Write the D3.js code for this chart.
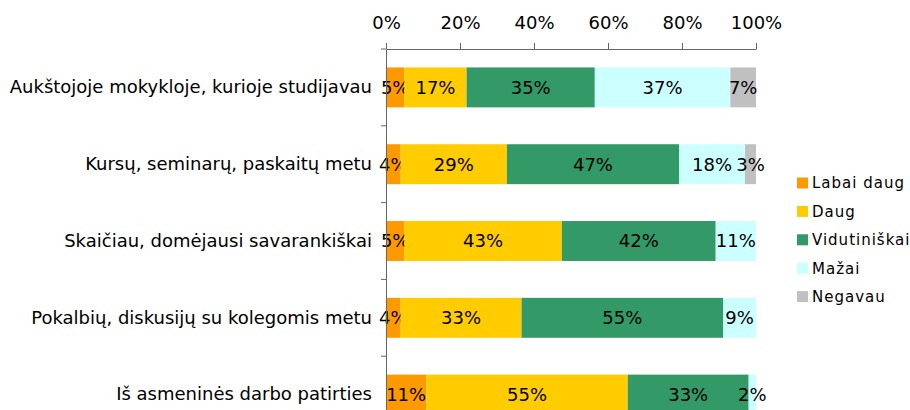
<!DOCTYPE html>
<html lang="en">
<head>
<meta charset="utf-8">
<script src="https://d3js.org/d3.v7.min.js"></script>
<style>
  body { margin: 0; background: #fff; }
  text { font-family: Verdana, "DejaVu Sans", sans-serif; fill: #000; }
</style>
</head>
<body>
<div id="chart"></div>
<script>
// categories (top to bottom)
var categories = [
  "Aukštojoje mokykloje, kurioje studijavau",
  "Kursų, seminarų, paskaitų metu",
  "Skaičiau, domėjausi savarankiškai",
  "Pokalbių, diskusijų su kolegomis metu",
  "Iš asmeninės darbo patirties"
];
// series names and colours
var seriesNames = ["Labai daug", "Daug", "Vidutiniškai", "Mažai", "Negavau"];
var seriesColors = ["#ff9900", "#ffcc00", "#339966", "#ccffff", "#c0c0c0"];
// percent values per category (as shown in the labels)
var labaiDaug    = [5, 4, 5, 4, 11];
var daug         = [17, 29, 43, 33, 55];
var vidutiniskai = [35, 47, 42, 55, 33];
var mazai        = [37, 18, 11, 9, 2];
var negavau      = [7, 3, 0, 0, 0];
var xTicks = [0, 0.2, 0.4, 0.6, 0.8, 1];

var seriesValues = [labaiDaug, daug, vidutiniskai, mazai, negavau];
var rows = categories.map(function(c, i) {
  var r = {cat: c};
  seriesNames.forEach(function(s, j) { r[s] = seriesValues[j][i]; });
  return r;
});

var W = 910, H = 410;
var margin = {top: 49, left: 386};
var plotW = 370;

var svg = d3.select("#chart").append("svg")
  .attr("width", W).attr("height", H);

var x = d3.scaleLinear().domain([0, 1]).range([margin.left, margin.left + plotW]);
var y = d3.scaleBand().domain(categories)
  .range([margin.top, margin.top + 384])
  .paddingInner(0.48).paddingOuter(0.24);

// stack, each row expanded to 100%
var stacked = d3.stack().keys(seriesNames).offset(d3.stackOffsetExpand)(rows);

var groups = svg.append("g").selectAll("g")
  .data(stacked).enter().append("g")
    .attr("fill", function(d, i) { return seriesColors[i]; });

groups.selectAll("rect")
  .data(function(d) { return d; })
  .enter().append("rect")
    .attr("x", function(d) { return x(d[0]); })
    .attr("y", function(d) { return y(d.data.cat); })
    .attr("width", function(d) { return x(d[1]) - x(d[0]); })
    .attr("height", y.bandwidth());

// value labels
groups.each(function(s) {
  d3.select(this).selectAll("text")
    .data(s.filter(function(d) { return d.data[s.key] > 0; }))
    .enter().append("text")
      .attr("x", function(d) { return (x(d[0]) + x(d[1])) / 2; })
      .attr("y", function(d) { return y(d.data.cat) + y.bandwidth() / 2; })
      .attr("dy", "0.36em")
      .attr("text-anchor", "middle")
      .style("font-size", "18px")
      .style("fill", "#000")
      .text(function(d) { return d.data[s.key] + "%"; });
});

// top axis
var xAxis = svg.append("g")
  .attr("transform", "translate(0," + margin.top + ")")
  .call(d3.axisTop(x).tickValues(xTicks).tickFormat(d3.format(".0%"))
    .tickSize(6).tickSizeOuter(0).tickPadding(14));
xAxis.selectAll("text").style("font-size", "18px").style("fill", "#000");
xAxis.select(".domain").attr("stroke", "#666");
xAxis.selectAll(".tick line").attr("stroke", "#666");

// left axis: category labels, separator ticks
var yAxis = svg.append("g")
  .attr("transform", "translate(" + margin.left + ",0)")
  .call(d3.axisLeft(y).tickSize(0).tickSizeOuter(0).tickPadding(14));
yAxis.selectAll("text").style("font-size", "18px").style("fill", "#000");
yAxis.select(".domain").attr("stroke", "#666");

var seps = d3.range(categories.length).map(function(i) { return margin.top + i * y.step(); });
yAxis.selectAll("line.sep").data(seps).enter().append("line")
  .attr("class", "sep")
  .attr("x1", -5).attr("x2", 0)
  .attr("y1", function(d) { return d; }).attr("y2", function(d) { return d; })
  .attr("stroke", "#666");

// legend
var legend = svg.append("g").attr("transform", "translate(797,183)");
var li = legend.selectAll("g").data(seriesNames).enter().append("g")
  .attr("transform", function(d, i) { return "translate(0," + (i * 28.4) + ")"; });
li.append("rect")
  .attr("x", 0).attr("y", -5.5).attr("width", 11).attr("height", 11)
  .attr("fill", function(d, i) { return seriesColors[i]; });
li.append("text")
  .attr("x", 15).attr("dy", "0.36em")
  .style("font-size", "15px")
  .style("letter-spacing", "1px")
  .text(function(d) { return d; });
</script>
</body>
</html>
